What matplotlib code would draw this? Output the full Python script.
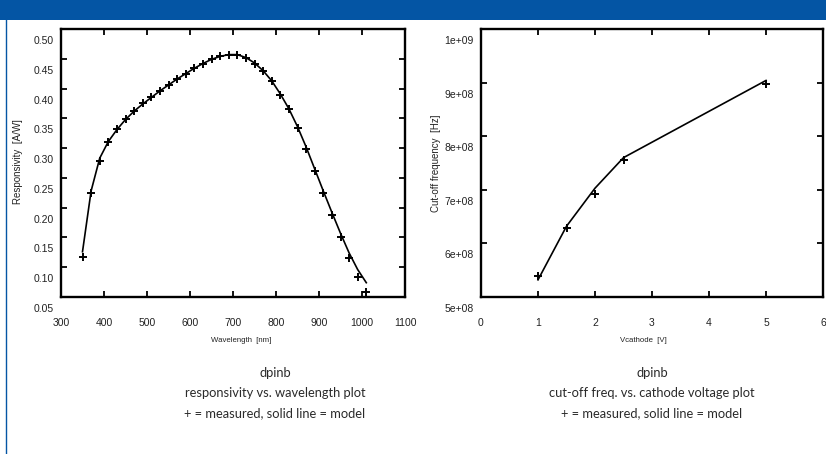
import matplotlib
matplotlib.use("Agg")
import matplotlib.pyplot as plt
from matplotlib.patches import Rectangle
from matplotlib.lines import Line2D
from matplotlib.transforms import ScaledTranslation

plt.rcParams["font.family"] = ["Liberation Sans", "DejaVu Sans"]

# ---------------- data ----------------
wavelength = [350, 370, 390, 410, 430, 450, 470, 490, 510, 530, 550, 570,
              590, 610, 630, 650, 670, 690, 710, 730, 750, 770, 790, 810,
              830, 850, 870, 890, 910, 930, 950, 970, 990, 1010]
resp_measured = [0.117, 0.225, 0.279, 0.310, 0.332, 0.349, 0.363, 0.375,
                 0.385, 0.396, 0.406, 0.416, 0.425, 0.434, 0.442, 0.450,
                 0.455, 0.456, 0.456, 0.451, 0.442, 0.430, 0.412, 0.390,
                 0.365, 0.333, 0.298, 0.262, 0.225, 0.188, 0.150, 0.115,
                 0.084, 0.058]
resp_model = [0.126, 0.228, 0.283, 0.311, 0.331, 0.348, 0.362, 0.374,
              0.385, 0.396, 0.406, 0.416, 0.425, 0.434, 0.442, 0.449,
              0.454, 0.457, 0.457, 0.452, 0.443, 0.430, 0.413, 0.391,
              0.366, 0.336, 0.302, 0.265, 0.228, 0.192, 0.157, 0.124,
              0.096, 0.074]

vcathode = [1.0, 1.5, 2.0, 2.5, 5.0]
fc_measured = [5.39e8, 6.28e8, 6.93e8, 7.56e8, 8.97e8]
fc_model = [5.32e8, 6.32e8, 7.03e8, 7.60e8, 9.04e8]

resp_yticks = [0.05, 0.10, 0.15, 0.20, 0.25, 0.30, 0.35, 0.40, 0.45, 0.50]
resp_ylabels = ["0.05", "0.10", "0.15", "0.20", "0.25", "0.30", "0.35", "0.40", "0.45", "0.50"]
wl_xticks = [300, 400, 500, 600, 700, 800, 900, 1000, 1100]
fc_yticks = [5e8, 6e8, 7e8, 8e8, 9e8, 1e9]
fc_ylabels = ["5e+08", "6e+08", "7e+08", "8e+08", "9e+08", "1e+09"]
v_xticks = [0, 1, 2, 3, 4, 5, 6]

captions_left = "dpinb\nresponsivity vs. wavelength plot\n+ = measured, solid line = model"
captions_right = "dpinb\ncut-off freq. vs. cathode voltage plot\n+ = measured, solid line = model"

# ---------------- figure ----------------
W, H = 826, 454
fig = plt.figure(figsize=(W / 100, H / 100), dpi=100)
fig.patch.set_facecolor("white")

BLUE = "#0455a4"
fig.patches.append(Rectangle((0, 1 - 20 / H), 1, 20 / H, transform=fig.transFigure,
                             facecolor=BLUE, edgecolor="none", zorder=0))
fig.lines.append(Line2D([5.5 / W, 5.5 / W], [0, 1 - 20 / H], transform=fig.transFigure,
                        color=BLUE, linewidth=1.0))

TXT = "#222222"
TICKSIZE = 7.5


def style_axes(ax):
    for s in ax.spines.values():
        s.set_linewidth(1.7)
        s.set_color("black")
    ax.tick_params(direction="in", length=4, width=1.3, top=True, right=True,
                   colors="black", labelcolor=TXT, labelsize=TICKSIZE)
    ax.tick_params(axis="x", pad=15)
    ax.tick_params(axis="y", pad=5)
    for lab in ax.get_yticklabels():
        lab.set_transform(lab.get_transform() + ScaledTranslation(0, -11 / 100, fig.dpi_scale_trans))


def make_axes(x0, x1):
    return fig.add_axes([x0 / W, 1 - 297 / H, (x1 - x0) / W, (297 - 29) / H])


# left plot
ax1 = make_axes(61, 405)
ax1.plot(wavelength, resp_model, color="black", linewidth=1.2, zorder=2)
ax1.plot(wavelength, resp_measured, linestyle="none", marker="+", markersize=6,
         markeredgewidth=1.4, color="black", zorder=3)
ax1.set_xlim(300, 1100)
ax1.set_ylim(0.05, 0.50)
ax1.set_xticks(wl_xticks)
ax1.set_yticks(resp_yticks)
ax1.set_yticklabels(resp_ylabels)
style_axes(ax1)

# right plot
ax2 = make_axes(481, 823)
ax2.plot(vcathode, fc_model, color="black", linewidth=1.2, zorder=2)
ax2.plot(vcathode, fc_measured, linestyle="none", marker="+", markersize=6,
         markeredgewidth=1.4, color="black", zorder=3)
ax2.set_xlim(0, 6)
ax2.set_ylim(5e8, 1e9)
ax2.set_xticks(v_xticks)
ax2.set_yticks(fc_yticks)
ax2.set_yticklabels(fc_ylabels)
style_axes(ax2)

# axis labels
XLAB = dict(size=5.6)
YLAB = dict(size=7)
fig.text(241 / W, 1 - 340 / H, "Wavelength  [nm]", ha="center", va="center", color=TXT, **XLAB)
fig.text(643 / W, 1 - 340 / H, "Vcathode  [V]", ha="center", va="center", color=TXT, **XLAB)
fig.text(18 / W, 1 - 162 / H, "Responsivity  [A/W]", ha="center", va="center",
         rotation=90, color=TXT, **YLAB)
fig.text(436 / W, 1 - 163 / H, "Cut-off frequency  [Hz]", ha="center", va="center",
         rotation=90, color=TXT, **YLAB)

# captions
CAP = dict(family="Lato", size=9.3)
for cx, txt in [(275, captions_left), (652, captions_right)]:
    for i, line in enumerate(txt.split("\n")):
        fig.text(cx / W, 1 - (373 + 20 * i) / H, line, ha="center", va="center",
                 color="#2a2a2a", **CAP)

fig.savefig("out.png", dpi=100)
